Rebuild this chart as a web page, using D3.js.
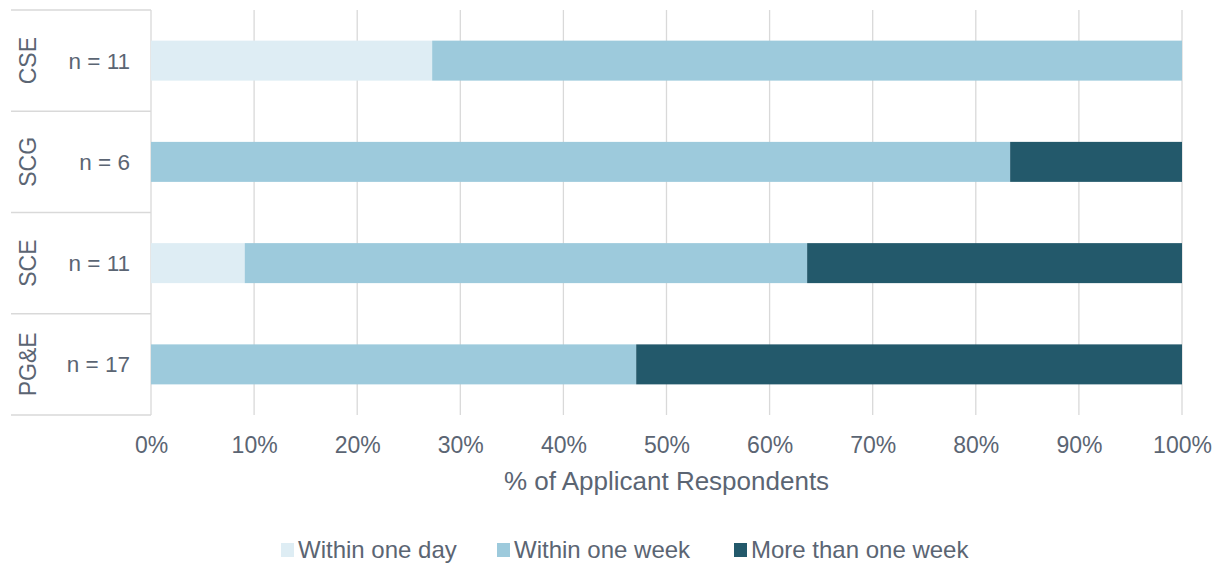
<!DOCTYPE html>
<html><head><meta charset="utf-8">
<script src="https://cdn.jsdelivr.net/npm/d3@7"></script>
<style>body{margin:0;background:#fff}svg{display:block;font-family:"Liberation Sans",Arial,sans-serif}</style>
</head><body><svg id="c" width="1219" height="564"></svg>
<script>
const categories = ["CSE","SCG","SCE","PG&E"];
const sampleLabels = ["n = 11","n = 6","n = 11","n = 17"];
const seriesNames = ["Within one day","Within one week","More than one week"];
const withinDay = [27.27, 0, 9.09, 0];
const withinWeek = [72.73, 83.33, 54.55, 47.06];
const moreThanWeek = [0, 16.67, 36.36, 52.94];
const tickValues = [0,10,20,30,40,50,60,70,80,90,100];
const colors = ["#deedf4","#9dcadc","#23596b"];

const svg = d3.select("#c");
const x0 = 151, x1 = 1182, yTop = 10, yBot = 415;
const x = d3.scaleLinear().domain([0,100]).range([x0,x1]);
const y = d3.scaleBand().domain(categories).range([yTop,yBot]).paddingInner(0).paddingOuter(0);
const textCol = "#5b6573", gridCol = "#d9d9d9";

// gridlines
svg.append("g").selectAll("line").data(tickValues).join("line")
  .attr("x1",d=>x(d)).attr("x2",d=>x(d)).attr("y1",yTop).attr("y2",yBot)
  .attr("stroke",gridCol).attr("stroke-width",1.3);
// row separators at left
const seps = [yTop, ...categories.map(c=>y(c)+y.bandwidth())];
svg.append("g").selectAll("line").data(seps).join("line")
  .attr("x1",11).attr("x2",x0).attr("y1",d=>d).attr("y2",d=>d)
  .attr("stroke",gridCol).attr("stroke-width",1.3);

// stacked bars
const rows = categories.map((c,i)=>({cat:c, a:withinDay[i], b:withinWeek[i], c:moreThanWeek[i]}));
const stack = d3.stack().keys(["a","b","c"])(rows);
const barH = 40;
svg.append("g").selectAll("g").data(stack).join("g").attr("fill",(d,i)=>colors[i])
  .selectAll("rect").data(d=>d).join("rect")
  .attr("x",d=>x(d[0])).attr("width",d=>x(d[1])-x(d[0]))
  .attr("y",d=>y(d.data.cat)+y.bandwidth()/2-barH/2).attr("height",barH);

// category labels rotated
svg.append("g").selectAll("text").data(categories).join("text")
  .attr("transform",d=>`translate(36,${y(d)+y.bandwidth()/2}) rotate(-90)`)
  .attr("text-anchor","middle").attr("fill",textCol).attr("font-size",23).text(d=>d);
// n labels
svg.append("g").selectAll("text").data(categories).join("text")
  .attr("x",130).attr("y",d=>y(d)+y.bandwidth()/2+8)
  .attr("text-anchor","end").attr("fill",textCol).attr("font-size",22.5).text((d,i)=>sampleLabels[i]);

// x axis tick labels
const ax = d3.axisBottom(x).tickValues(tickValues).tickFormat(d=>d+"%").tickSize(0).tickPadding(0);
const g = svg.append("g").attr("transform",`translate(0,${yBot})`).call(ax);
g.select(".domain").remove();
g.selectAll("text").attr("fill",textCol).attr("font-size",23).attr("font-family","Liberation Sans, Arial, sans-serif").attr("dy",0).attr("y",38);

svg.append("text").attr("x",(x0+x1)/2).attr("y",490).attr("text-anchor","middle")
  .attr("fill",textCol).attr("font-size",26).text("% of Applicant Respondents");

// legend
const legX = [281, 497, 734];
const lg = svg.append("g").selectAll("g").data(seriesNames).join("g")
  .attr("transform",(d,i)=>`translate(${legX[i]},543)`);
lg.append("rect").attr("width",13).attr("height",14).attr("fill",(d,i)=>colors[i]);
lg.append("text").attr("x",17).attr("y",15).attr("fill",textCol).attr("font-size",24).text(d=>d);
</script></body></html>
